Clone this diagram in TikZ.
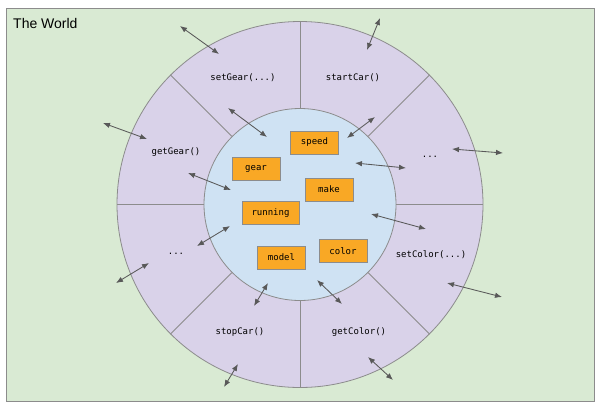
\documentclass[tikz,border=0pt]{standalone}
\usepackage{fontspec}
\setmainfont{Liberation Sans}
\newfontfamily\monof{DejaVu Sans Mono}
\usetikzlibrary{arrows.meta}
\definecolor{worldgreen}{HTML}{D9EAD3}
\definecolor{ringpurple}{HTML}{D9D2E9}
\definecolor{corelblue}{HTML}{CFE2F3}
\definecolor{fieldorange}{HTML}{F9A825}
\definecolor{edgegray}{HTML}{8C8C8C}
\definecolor{arrowgray}{HTML}{595959}
\tikzset{
  worldbox/.style={draw=edgegray, line width=1pt, fill=worldgreen},
  ring/.style={circle, draw=edgegray, line width=0.8pt, fill=ringpurple, inner sep=0pt, minimum size=366pt},
  core/.style={circle, draw=edgegray, line width=0.8pt, fill=corelblue, inner sep=0pt, minimum size=192pt},
  divider/.style={draw=edgegray, line width=0.8pt},
  method/.style={font=\monof\fontsize{9}{10}\selectfont, anchor=base, inner sep=0pt},
  field/.style={draw=edgegray, line width=0.8pt, fill=fieldorange, font=\monof\fontsize{9}{10}\selectfont, minimum width=48pt, minimum height=23pt, inner sep=0pt},
  biarrow/.style={draw=arrowgray, line width=0.85pt, {Latex[length=7pt,width=5.5pt]}-{Latex[length=7pt,width=5.5pt]}}
}
\begin{document}
\begin{tikzpicture}[x=1pt,y=-1pt]
\useasboundingbox (0,0) rectangle (600,408);
\fill[white] (0,0) rectangle (600,408);
\draw[worldbox] (6,8) rectangle (594,401);
\node[anchor=base west, inner sep=0pt, font=\fontsize{14}{16}\selectfont] (title) at (13,28) {The World};
\node[ring] (outer) at (300,204.5) {};
\node[core] (inner) at (300,204.5) {};
\foreach \a in {0,45,...,315}
  \draw[divider] (inner.\a) -- (outer.\a);
% method labels
\node[method] (setgear) at (243,80.5) {setGear(...)};
\node[method] (startcar) at (353,80.5) {startCar()};
\node[method] (dotsr) at (430,157) {...};
\node[method] (getgear) at (176,154.5) {getGear()};
\node[method] (dotsl) at (176,254) {...};
\node[method] (stopcar) at (240,334) {stopCar()};
\node[method] (getcolor) at (359,334) {getColor()};
\node[method] (setcolor) at (431,257.5) {setColor(...)};
% fields
\node[field] (speed) at (314.5,142.5) {speed};
\node[field] (gear) at (256,168.5) {gear};
\node[field] (make) at (329,189.5) {make};
\node[field, minimum width=57pt] (running) at (270.5,213) {running};
\node[field] (model) at (281.5,257.5) {model};
\node[field] (color) at (343,251) {color};
% arrow ends
\coordinate (a1s) at (180,26);  \coordinate (a1e) at (219,54);
\coordinate (a2s) at (228,108); \coordinate (a2e) at (267,137);
\coordinate (a3s) at (103,123); \coordinate (a3e) at (147,139);
\coordinate (a4s) at (188,173); \coordinate (a4e) at (231,190);
\coordinate (a5s) at (380,18);  \coordinate (a5e) at (367,50);
\coordinate (a6s) at (375,117); \coordinate (a6e) at (347,138);
\coordinate (a7s) at (452,149); \coordinate (a7e) at (503,153);
\coordinate (a8s) at (355,163); \coordinate (a8e) at (406,168);
\coordinate (a9s) at (230,226); \coordinate (a9e) at (197,246);
\coordinate (a10s) at (149,263); \coordinate (a10e) at (116,283);
\coordinate (a11s) at (268,283); \coordinate (a11e) at (254,306);
\coordinate (a12s) at (238,364); \coordinate (a12e) at (224,387);
\coordinate (a13s) at (371,214); \coordinate (a13e) at (426,229);
\coordinate (a14s) at (447,283); \coordinate (a14e) at (502,297);
\coordinate (a15s) at (317,280); \coordinate (a15e) at (342,304);
\coordinate (a16s) at (368,357); \coordinate (a16e) at (393,380);
\foreach \i in {1,...,16}
  \draw[biarrow] (a\i s) -- (a\i e);
\end{tikzpicture}
\end{document}
